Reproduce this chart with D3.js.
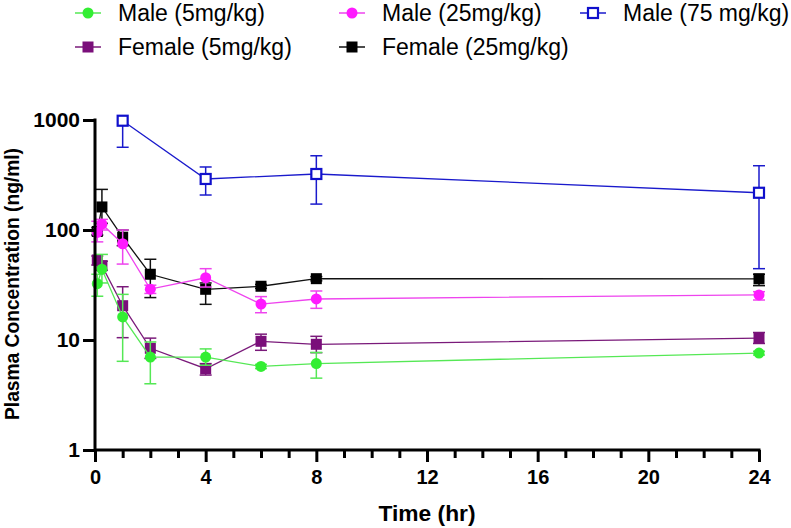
<!DOCTYPE html>
<html><head><meta charset="utf-8">
<script src="https://cdn.jsdelivr.net/npm/d3@7"></script>
<style>
html,body{margin:0;padding:0;background:#fff;}
svg{display:block;}
</style></head>
<body>
<svg id="chart" width="791" height="528"></svg>
<script>
// ---- data ----
const seriesNames = ["Male (5mg/kg)", "Male (25mg/kg)", "Male (75 mg/kg)", "Female (5mg/kg)", "Female (25mg/kg)"];
const timesEarly = [0.083, 0.25, 1, 2, 4, 6, 8, 24];
const times75 = [1, 4, 8, 24];
const male5 = [32.5, 44, 16.2, 7.0, 7.0, 5.75, 6.1, 7.6];
const male5Lo = [25, 33, 6.4, 4.0, 5.9, 5.5, 4.5, 7.3];
const male5Hi = [39.6, 60, 26, 9.6, 8.3, 6.0, 7.7, 7.9];
const male25 = [95, 113, 75, 29, 36.8, 21.2, 23.6, 25.7];
const male25Lo = [78, 100, 49, 26.5, 30.3, 17.7, 19.4, 23.1];
const male25Hi = [120, 125, 100, 31.5, 44.5, 24.8, 27.9, 27.5];
const male75 = [985, 291, 323, 218];
const male75Lo = [565, 208, 172, 44.5];
const male75Hi = [1400, 374, 473, 384];
const female5 = [53.4, 47.4, 20.5, 8.4, 5.48, 9.73, 9.14, 10.4];
const female5Lo = [48, 43, 10.5, 6.8, 4.8, 8.06, 7.67, 9.3];
const female5Hi = [58, 52, 30.5, 10.4, 6.1, 11.3, 10.8, 11.7];
const female25 = [97, 162, 86, 39.6, 28.9, 30.8, 36.1, 36];
const female25Lo = [90, 115, 72, 24.3, 21.1, 29.5, 34.5, 31.2];
const female25Hi = [105, 234, 100, 54.2, 33, 32, 37.7, 39.6];
const xTicks = [0, 4, 8, 12, 16, 20, 24];
const xMinorTicks = d3.range(0, 25, 1);
const yTicks = [1, 10, 100, 1000];

// ---- build series ----
function mk(name, ts, v, lo, hi) { return {name, pts: ts.map((t,i)=>({t, v:v[i], lo:lo[i], hi:hi[i]}))}; }
const S = {
  m5: mk(seriesNames[0], timesEarly, male5, male5Lo, male5Hi),
  m25: mk(seriesNames[1], timesEarly, male25, male25Lo, male25Hi),
  m75: mk(seriesNames[2], times75, male75, male75Lo, male75Hi),
  f5: mk(seriesNames[3], timesEarly, female5, female5Lo, female5Hi),
  f25: mk(seriesNames[4], timesEarly, female25, female25Lo, female25Hi)
};
const style = {
  m5: {color:"#33ee33", line:"#55e855", shape:"circle", fill:"#33ee33"},
  m25: {color:"#ff1aff", line:"#ee44ee", shape:"circle", fill:"#ff1aff"},
  m75: {color:"#1010cc", line:"#1a1acc", shape:"opensq", fill:"#fff"},
  f5: {color:"#7a0f7a", line:"#7a1a7a", shape:"square", fill:"#7a0f7a"},
  f25: {color:"#000000", line:"#111", shape:"square", fill:"#000"}
};

const svg = d3.select("#chart");
const x = d3.scaleLinear().domain([0,24]).range([95,759]);
const y = d3.scaleLog().domain([1,1000]).range([450,120]);

const axisFont = "'Liberation Sans',Arial,Helvetica,sans-serif";

// clip for error bars only
svg.append("defs").append("clipPath").attr("id","clip")
  .append("rect").attr("x",80).attr("y",120).attr("width",711).attr("height",340);

function drawMarker(g, shape, cx, cy, st) {
  if (shape === "circle") {
    g.append("circle").attr("cx",cx).attr("cy",cy).attr("r",5.5).attr("fill",st.fill);
  } else if (shape === "square") {
    g.append("rect").attr("x",cx-5.5).attr("y",cy-5.5).attr("width",11).attr("height",11).attr("fill",st.fill);
  } else {
    g.append("rect").attr("x",cx-5).attr("y",cy-5).attr("width",10).attr("height",10)
      .attr("fill","#fff").attr("stroke",st.color).attr("stroke-width",2.2);
  }
}

const order = ["f25","f5","m75","m25","m5"];
order.forEach(k => {
  const s = S[k], st = style[k];
  const g = svg.append("g");
  const ge = g.append("g").attr("clip-path","url(#clip)");
  // line
  ge.append("path").datum(s.pts)
    .attr("d", d3.line().x(d=>x(d.t)).y(d=>y(d.v)))
    .attr("fill","none").attr("stroke",st.line).attr("stroke-width",1.3);
  // error bars
  s.pts.forEach(d => {
    const cx = x(d.t);
    ge.append("line").attr("x1",cx).attr("x2",cx).attr("y1",y(d.lo)).attr("y2",y(d.hi))
      .attr("stroke",st.line).attr("stroke-width",1.5);
    [d.lo,d.hi].forEach(e => ge.append("line").attr("x1",cx-6).attr("x2",cx+6)
      .attr("y1",y(e)).attr("y2",y(e)).attr("stroke",st.line).attr("stroke-width",1.5));
  });
  s.pts.forEach(d => drawMarker(g, st.shape, x(d.t), y(d.v), st));
});

// axes
const xAxis = svg.append("g").attr("transform","translate(0,450)")
  .call(d3.axisBottom(x).tickValues(xTicks).tickSize(12).tickPadding(8).tickFormat(d3.format("d")));
svg.append("g").attr("transform","translate(0,450)")
  .call(d3.axisBottom(x).tickValues(xMinorTicks.filter(v=>v%4!==0)).tickSize(8).tickFormat(""))
  .call(g=>g.select(".domain").remove())
  .selectAll("line").attr("stroke","#000").attr("stroke-width",3);
xAxis.select(".domain").attr("stroke","#000").attr("stroke-width",3).attr("d","M95,0H760.5");
xAxis.selectAll(".tick line").attr("stroke","#000").attr("stroke-width",3);
xAxis.selectAll("text").attr("font-family",axisFont).attr("font-weight","bold").attr("font-size",20).attr("fill","#000");

const yAxis = svg.append("g").attr("transform","translate(95,0)")
  .call(d3.axisLeft(y).tickValues(yTicks).tickSize(12).tickPadding(3).tickFormat(d3.format("d")));
yAxis.select(".domain").attr("stroke","#000").attr("stroke-width",3).attr("d","M0,118.5V451.5");
yAxis.selectAll(".tick line").attr("stroke","#000").attr("stroke-width",3);
yAxis.selectAll("text").attr("font-family",axisFont).attr("font-weight","bold").attr("font-size",21).attr("fill","#000");

// axis titles
svg.append("text").attr("x",427).attr("y",521).attr("text-anchor","middle")
  .attr("font-family",axisFont).attr("font-weight","bold").attr("font-size",22)
  .attr("textLength",97).attr("lengthAdjust","spacingAndGlyphs").text("Time (hr)");
svg.append("text").attr("transform","translate(19,284) rotate(-90)").attr("text-anchor","middle")
  .attr("font-family",axisFont).attr("font-weight","bold").attr("font-size",21)
  .attr("textLength",272).attr("lengthAdjust","spacingAndGlyphs").text("Plasma Concentration (ng/ml)");

// legend
const legendPos = {
  m5: [88, 13], m25: [352, 13], m75: [593, 13],
  f5: [88, 47], f25: [352, 47]
};
["m5","m25","m75","f5","f25"].forEach(k => {
  const [lx, ly] = legendPos[k], st = style[k];
  const g = svg.append("g");
  g.append("line").attr("x1",lx-13).attr("x2",lx+13).attr("y1",ly).attr("y2",ly)
    .attr("stroke",st.line).attr("stroke-width",1.5);
  drawMarker(g, st.shape, lx, ly, st);
  g.append("text").attr("x",lx+30).attr("y",ly).attr("dy","0.35em")
    .attr("font-family","'Liberation Sans',Arial,sans-serif").attr("font-size",23).attr("fill","#000")
    .text(S[k].name);
});
</script>
</body></html>
